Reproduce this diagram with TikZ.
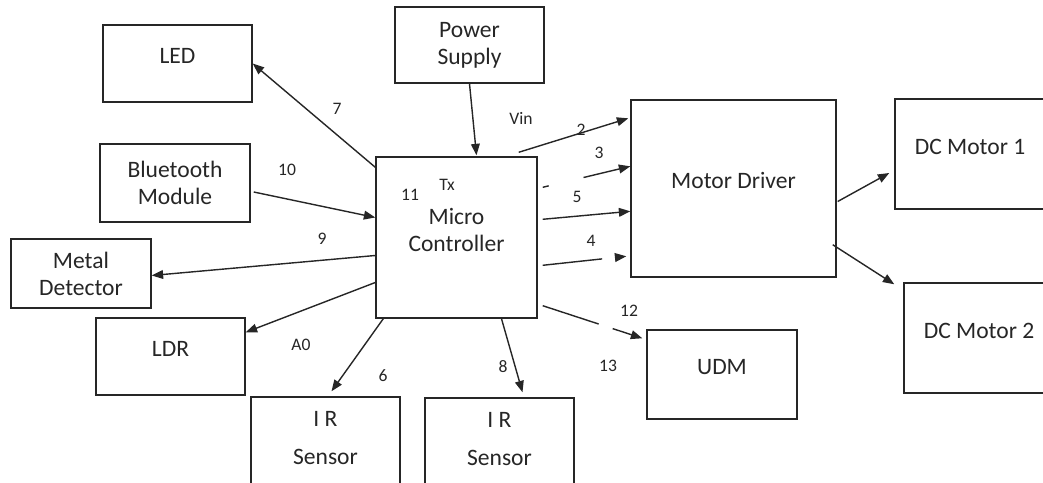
\documentclass[tikz,border=0pt]{standalone}
\usepackage{fontspec}
\setmainfont{Carlito}
\usepackage{tikz}
\usetikzlibrary{calc,arrows.meta}
\definecolor{ink}{HTML}{262626}
\newcommand{\blockfont}{\fontsize{13.4}{15.4}\selectfont}
\newcommand{\pinfont}{\fontsize{10}{12}\selectfont}
\tikzset{
  block/.style={draw=ink, line width=0.8pt, align=center, font=\blockfont, text=ink},
  singleblock/.style={block, text height=2.2mm, text depth=2.1mm},
  pinnum/.style={font=\pinfont, text=ink, inner sep=1pt},
  arrow/.style={draw=ink, line width=0.8pt, -{Triangle[length=6.5pt,width=5pt]}}
}

\begin{document}
\begin{tikzpicture}[x=0.2mm, y=-0.2mm]
  \useasboundingbox (0,0) rectangle (1043,483);

  \node[singleblock, minimum width=29.8mm, minimum height=15.4mm] (led) at (177.5,63.5) {LED};
  \node[block, minimum width=29.8mm, minimum height=15.2mm] (power) at (469.5,45) {Power\\Supply};
  \node[block, minimum width=30mm, minimum height=15.6mm] (bluetooth) at (175,183) {Bluetooth\\Module};
  \node[block, minimum width=28mm, minimum height=13.8mm] (metal) at (81,273.5) {Metal\\Detector};
  \node[singleblock, minimum width=29.8mm, minimum height=15.4mm] (ldr) at (170.5,356.5) {LDR};
  \node[block, minimum width=32.2mm, minimum height=32.2mm] (micro) at (456.5,237.5) {Micro\\Controller\\[-6.4pt]};
  \node[singleblock, minimum width=41mm, minimum height=35.4mm] (driver) at (733.5,188.5) {Motor Driver};
  \node[singleblock, minimum width=30mm, minimum height=22mm] (motorA) at (970,154) {DC Motor 1};
  \node[singleblock, minimum width=30mm, minimum height=22mm] (motorB) at (979,338) {DC Motor 2};
  \node[singleblock, minimum width=30mm, minimum height=17.8mm] (udm) at (722,374.5) {UDM};
  \node[block, minimum width=29.8mm, minimum height=18mm] (irA) at (325.5,442) {I R\\[6.7pt]Sensor\\[-10.8pt]};
  \node[block, minimum width=29.8mm, minimum height=18mm] (irB) at (499.5,443) {I R\\[6.7pt]Sensor\\[-10.8pt]};

  \draw[arrow] ($(micro.north west)+(0,11)$) -- (led.east);
  \draw[arrow] (power.south) -- ($(micro.north)+(20,-1)$);
  \draw[arrow] ($(bluetooth.east)+(3,9)$) -- ($(micro.west)+(0,-20)$);
  \draw[arrow] ($(micro.west)+(0,18)$) -- ($(metal.east)+(0,2)$);
  \draw[arrow] ($(micro.west)+(0,45)$) -- ($(ldr.north east)+(0,15)$);
  \draw[arrow] ($(micro.south west)+(8,0)$) -- ($(irA.north)+(6,-5)$);
  \draw[arrow] ($(micro.south)+(45,0)$) -- ($(irB.north)+(23,-5)$);
  \draw[arrow, dash pattern=on 33.5pt off 8.4pt on 100pt] ($(micro.south east)+(5,-13)$) -- ($(udm.north west)+(-4,9)$);

  \draw[arrow] ($(micro.north east)+(-19,-4)$) -- ($(driver.north west)+(-2,19)$);
  \draw[arrow, dash pattern=on 3.5pt off 20.4pt on 100pt] ($(micro.north east)+(5,31)$) -- ($(driver.north west)+(0,67)$);
  \draw[arrow] ($(micro.north east)+(5,63)$) -- ($(driver.north west)+(0,112)$);
  \draw[arrow, dash pattern=on 34pt off 100pt] ($(micro.north east)+(5,109)$) -- ($(driver.north west)+(-4,157)$);

  \draw[arrow] ($(driver.east)+(1,13)$) -- ($(motorA.west)+(-5,19)$);
  \draw[arrow] ($(driver.south east)+(-4,-33)$) -- ($(motorB.north west)+(-9,2)$);

  \node[pinnum] (n7) at (337,109) {7};
  \node[pinnum] (n10) at (287,170) {10};
  \node[pinnum] (n9) at (322,239) {9};
  \node[pinnum] (nA0) at (301,345) {A0};
  \node[pinnum] (n6) at (383,376) {6};
  \node[pinnum] (n8) at (503,367) {8};
  \node[pinnum] (n13) at (608,366) {13};
  \node[pinnum] (n12) at (629,311) {12};
  \node[pinnum] (n4) at (591,241) {4};
  \node[pinnum] (n5) at (577,197) {5};
  \node[pinnum] (n3) at (599,153) {3};
  \node[pinnum] (n2) at (581,130) {2};
  \node[pinnum] (vin) at (521,118) {Vin};
  \node[pinnum] (tx) at (447,185) {Tx};
  \node[pinnum] (n11) at (410,195) {11};
\end{tikzpicture}
\end{document}
